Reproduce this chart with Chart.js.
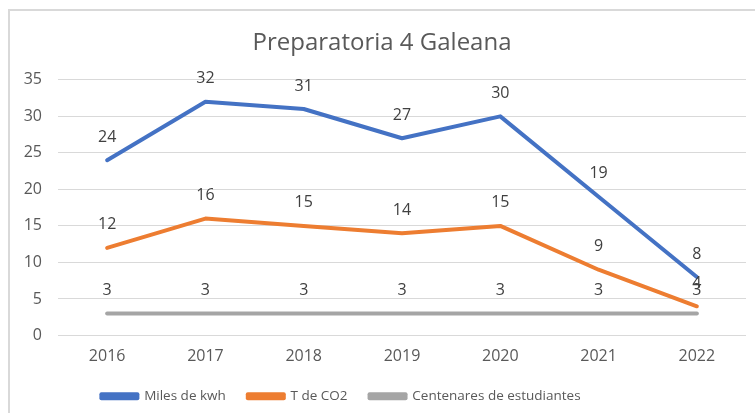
<!DOCTYPE html>
<html>
<head>
<meta charset="utf-8">
<script src="https://cdn.jsdelivr.net/npm/chart.js@4"></script>
<style>
    html, body { margin: 0; padding: 0; background: #fff; }
    #wrap { position: relative; width: 755px; height: 413px; }
    #frame {
        position: absolute; left: 8px; top: 9px; right: -2px; bottom: -2px;
        border-left: 2px solid #d9d9d9; border-top: 2px solid #d9d9d9;
        pointer-events: none;
    }
</style>
</head>
<body>
<div id="wrap">
    <canvas id="chart" width="755" height="413"></canvas>
    <div id="frame"></div>
</div>
<script>
const years = ["2016", "2017", "2018", "2019", "2020", "2021", "2022"];
const kwh = [24, 32, 31, 27, 30, 19, 8];
const co2 = [12, 16, 15, 14, 15, 9, 4];
const students = [3, 3, 3, 3, 3, 3, 3];

const FONT = "'Open Sans', 'Noto Sans', sans-serif";

// draw the value above every point (no datalabels plugin offline)
const pointLabels = {
    id: "pointLabels",
    afterDatasetsDraw(chart) {
        const ctx = chart.ctx;
        ctx.save();
        ctx.font = "16px " + FONT;
        ctx.fillStyle = "#404040";
        ctx.textAlign = "center";
        ctx.textBaseline = "middle";
        chart.data.datasets.forEach((ds, i) => {
            chart.getDatasetMeta(i).data.forEach((pt, j) => {
                ctx.fillText(String(ds.data[j]), pt.x, pt.y - 23);
            });
        });
        ctx.restore();
    },
};

// Excel puts the legend a bit left of centre and the title a bit right
const nudgeBoxes = {
    id: "nudgeBoxes",
    afterLayout(chart) {
        chart.legend.left -= 32;
        chart.legend.right -= 32;
        chart.titleBlock.left += 9;
        chart.titleBlock.right += 9;
    },
};

const ctx = document.getElementById("chart").getContext("2d");
new Chart(ctx, {
    type: "line",
    data: {
        labels: years,
        datasets: [
            { label: "Miles de kwh", data: kwh, borderColor: "#4472C4", backgroundColor: "#4472C4" },
            { label: "T de CO2", data: co2, borderColor: "#ED7D31", backgroundColor: "#ED7D31" },
            { label: "Centenares de estudiantes", data: students, borderColor: "#A5A5A5", backgroundColor: "#A5A5A5" },
        ],
    },
    plugins: [pointLabels, nudgeBoxes],
    options: {
        responsive: false,
        animation: false,
        elements: {
            line: { borderWidth: 4, tension: 0, borderCapStyle: "round", borderJoinStyle: "round" },
            point: { radius: 0, hoverRadius: 0 },
        },
        layout: { padding: { top: 20, right: 9, bottom: 0, left: 0 } },
        scales: {
            x: {
                offset: true,
                grid: { display: false, drawTicks: false },
                border: { display: false },
                ticks: { color: "#595959", font: { size: 16, family: FONT }, padding: 11 },
                afterFit: (s) => { s.height = 32; },
            },
            y: {
                min: 0,
                max: 35,
                ticks: { stepSize: 5, color: "#595959", font: { size: 16, family: FONT }, padding: 16 },
                grid: { color: "#d9d9d9", lineWidth: 1, drawTicks: false },
                border: { display: false },
                afterFit: (s) => { s.width = 58; },
            },
        },
        plugins: {
            title: {
                display: true,
                text: "Preparatoria 4 Galeana",
                color: "#595959",
                font: { size: 24, family: FONT, weight: "normal" },
                padding: { top: 9, bottom: 22 },
            },
            legend: {
                position: "bottom",
                labels: {
                    color: "#595959",
                    font: { size: 13.5, family: FONT },
                    boxWidth: 36,
                    boxHeight: 4,
                    padding: 22,
                },
            },
            tooltip: { enabled: false },
        },
    },
});
</script>
</body>
</html>
